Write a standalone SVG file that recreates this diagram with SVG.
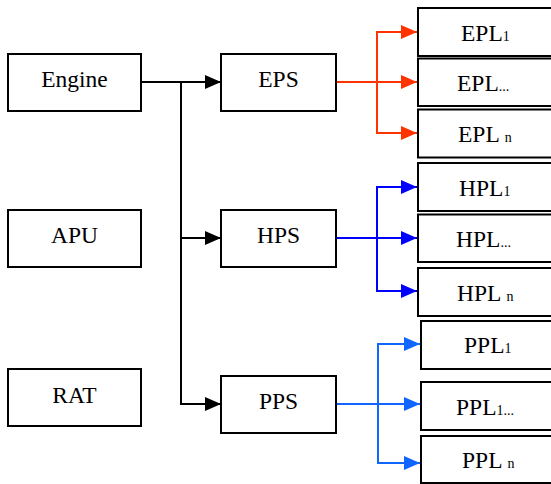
<svg xmlns="http://www.w3.org/2000/svg" width="551" height="484" viewBox="0 0 551 484">
<style>
.box{fill:#fff;stroke:#000;stroke-width:2}
text{font-family:'Liberation Serif','Tinos','DejaVu Serif','Times New Roman',serif;font-size:23.5px;fill:#000}
.m{text-anchor:middle}
.s{font-size:14px}
.c{fill:none;stroke-width:2}
</style>
<defs>
<marker id="ak" markerWidth="16" markerHeight="14" refX="16" refY="7" orient="auto" markerUnits="userSpaceOnUse"><path d="M0,0L16,7L0,14Z" fill="#000"/></marker>
<marker id="ar" markerWidth="16" markerHeight="14" refX="16" refY="7" orient="auto" markerUnits="userSpaceOnUse"><path d="M0,0L16,7L0,14Z" fill="#FF3300"/></marker>
<marker id="ab" markerWidth="16" markerHeight="14" refX="16" refY="7" orient="auto" markerUnits="userSpaceOnUse"><path d="M0,0L16,7L0,14Z" fill="#0000FF"/></marker>
<marker id="al" markerWidth="16" markerHeight="14" refX="16" refY="7" orient="auto" markerUnits="userSpaceOnUse"><path d="M0,0L16,7L0,14Z" fill="#1166FF"/></marker>
</defs>
<rect width="551" height="484" fill="#fff"/>
<g id="connectors">
<path class="c" stroke="#000" d="M141,82H221" marker-end="url(#ak)"/>
<path class="c" stroke="#000" d="M181,82V404H221" marker-end="url(#ak)"/>
<path class="c" stroke="#000" d="M181,238H221" marker-end="url(#ak)"/>
<path class="c" stroke="#FF3300" d="M336,82H417" marker-end="url(#ar)"/>
<path class="c" stroke="#FF3300" d="M377,82V32H417" marker-end="url(#ar)"/>
<path class="c" stroke="#FF3300" d="M377,82V133H417" marker-end="url(#ar)"/>
<path class="c" stroke="#0000FF" d="M336,238H417" marker-end="url(#ab)"/>
<path class="c" stroke="#0000FF" d="M377,238V187H417" marker-end="url(#ab)"/>
<path class="c" stroke="#0000FF" d="M377,238V291H417" marker-end="url(#ab)"/>
<path class="c" stroke="#1166FF" d="M336,404H420" marker-end="url(#al)"/>
<path class="c" stroke="#1166FF" d="M378,404V344H420" marker-end="url(#al)"/>
<path class="c" stroke="#1166FF" d="M378,404V463H420" marker-end="url(#al)"/>
</g>
<g id="engine"><rect class="box" x="8" y="54" width="133" height="57"/><text class="m" x="74.5" y="87">Engine</text></g>
<g id="apu"><rect class="box" x="8" y="210" width="133" height="57"/><text class="m" x="74.5" y="243">APU</text></g>
<g id="rat"><rect class="box" x="8" y="369" width="133" height="57"/><text class="m" x="74.5" y="403">RAT</text></g>
<g id="eps"><rect class="box" x="221" y="54" width="115" height="57"/><text class="m" x="278.5" y="87">EPS</text></g>
<g id="hps"><rect class="box" x="221" y="210" width="115" height="57"/><text class="m" x="278.5" y="243">HPS</text></g>
<g id="pps"><rect class="box" x="221" y="376" width="115" height="57"/><text class="m" x="278.5" y="409">PPS</text></g>
<g id="epl1"><rect class="box" x="418" y="8" width="150" height="48"/><text x="461" y="41">EPL<tspan class="s">1</tspan></text></g>
<g id="epl2"><rect class="box" x="418" y="58.5" width="150" height="47.5"/><text x="457" y="91">EPL<tspan class="s">...</tspan></text></g>
<g id="epln"><rect class="box" x="418" y="109.5" width="150" height="48"/><text x="458" y="142">EPL <tspan class="s">n</tspan></text></g>
<g id="hpl1"><rect class="box" x="418" y="163" width="150" height="48"/><text x="459" y="196">HPL<tspan class="s">1</tspan></text></g>
<g id="hpl2"><rect class="box" x="418" y="214.5" width="150" height="47.5"/><text x="456" y="247">HPL<tspan class="s">...</tspan></text></g>
<g id="hpln"><rect class="box" x="418" y="268" width="150" height="48"/><text x="457" y="301">HPL <tspan class="s">n</tspan></text></g>
<g id="ppl1"><rect class="box" x="421" y="321" width="150" height="48"/><text x="464" y="353">PPL<tspan class="s">1</tspan></text></g>
<g id="ppl2"><rect class="box" x="421" y="382" width="150" height="48"/><text x="456" y="415">PPL<tspan class="s">1...</tspan></text></g>
<g id="ppln"><rect class="box" x="421" y="436" width="150" height="47"/><text x="462" y="468">PPL <tspan class="s">n</tspan></text></g>
</svg>
